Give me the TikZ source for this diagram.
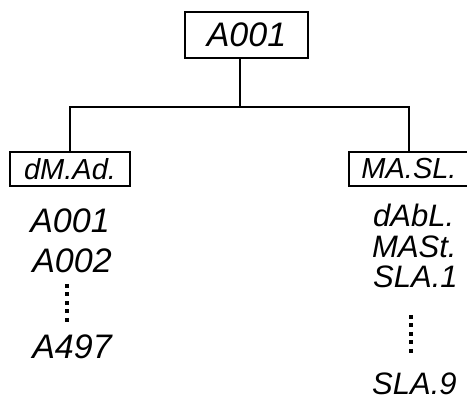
\documentclass[tikz,border=0pt]{standalone}
\usepackage{fontspec}
\setmainfont{Liberation Sans}
\begin{document}
\begin{tikzpicture}[x=1pt,y=-1pt,
  seg/.style={font=\fontsize{34}{34}\selectfont\itshape, inner sep=0pt, anchor=center},
  segr/.style={seg, font=\fontsize{31}{31}\selectfont\itshape, anchor=west},
  segbox/.style={draw, line width=1.6pt, font=\fontsize{29}{29}\selectfont\itshape,
     minimum width=120pt, minimum height=34pt, inner sep=0pt},
  conn/.style={line width=1.8pt},
  dots/.style={line width=3.2pt, dash pattern=on 4pt off 4.5pt}]
\useasboundingbox (0,0) rectangle (467,398);
\clip (0,0) rectangle (467,398);
\node[segbox, minimum width=123pt, minimum height=46pt, font=\fontsize{34}{34}\selectfont\itshape] (top) at (246.5,35) {A001};
\node[segbox] (left) at (70,169) {dM.Ad.};
\node[segbox] (right) at (409,169) {MA.SL.};
\coordinate (j) at (240,107);
\draw[conn] (j |- top.south) -- (j);
\draw[conn] (left.north) |- (j) -| (right.north);
% left column
\node[seg] (l1) at (70,221) {A001};
\node[seg] (l2) at (72,261) {A002};
\node[seg] (l3) at (72,347) {A497};
\coordinate (ld1) at (67,284);
\coordinate (ld2) at (67,322);
\draw[dots] (ld1) -- (ld2);
% right column
\node[segr] (r1) at (373,215.5) {dAbL.};
\node[segr] (r2) at (372,246.5) {MASt.};
\node[segr] (r3) at (373,277) {SLA.1};
\node[segr] (r4) at (372,384) {SLA.9};
\coordinate (rd1) at (411,315);
\coordinate (rd2) at (411,353);
\draw[dots] (rd1) -- (rd2);
\end{tikzpicture}
\end{document}
